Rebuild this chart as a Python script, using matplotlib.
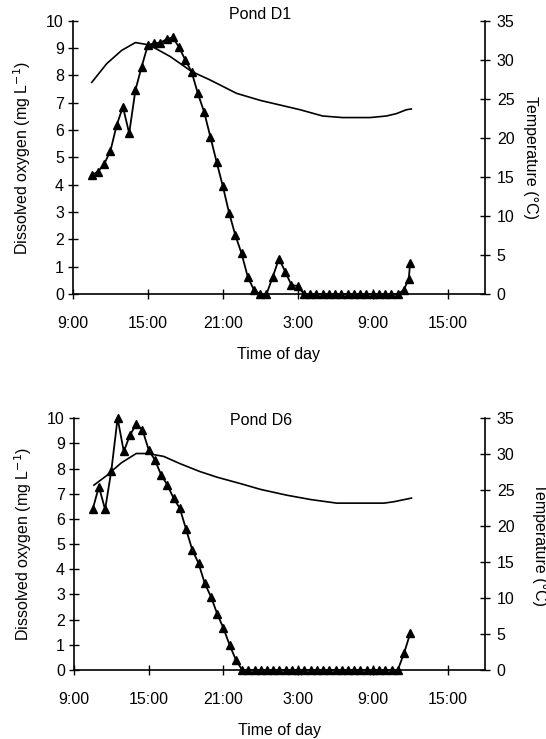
import matplotlib
matplotlib.use("Agg")
import matplotlib.pyplot as plt

plt.rcParams['font.family'] = ['Liberation Sans', 'DejaVu Sans']

# ---- Data (hours since midnight of day 1) ----
d1_time = [10.5, 11.0, 11.5, 12.0, 12.5, 13.0, 13.5, 14.0, 14.5, 15.0, 15.5, 16.0,
           16.5, 17.0, 17.5, 18.0, 18.5, 19.0, 19.5, 20.0, 20.5, 21.0, 21.5, 22.0,
           22.5, 23.0, 23.5, 24.0, 24.5, 25.0, 25.5, 26.0, 26.5, 27.0, 27.5, 28.0,
           28.5, 29.0, 29.5, 30.0, 30.5, 31.0, 31.5, 32.0, 32.5, 33.0, 33.5, 34.0,
           34.5, 35.0, 35.5, 35.9, 36.0]
d1_do = [4.35, 4.48, 4.76, 5.24, 6.18, 6.85, 5.88, 7.46, 8.32, 9.11, 9.17, 9.2,
         9.32, 9.39, 9.02, 8.56, 8.13, 7.34, 6.67, 5.76, 4.84, 3.95, 2.98, 2.16,
         1.49, 0.63, 0.15, 0.0, 0.0, 0.63, 1.3, 0.82, 0.33, 0.3, 0.0, 0.0,
         0.0, 0.0, 0.0, 0.0, 0.0, 0.0, 0.0, 0.0, 0.0, 0.0, 0.0, 0.0,
         0.0, 0.0, 0.15, 0.57, 1.12]
d1_temp_time = [10.5, 11.7, 12.9, 14.0, 15.1, 16.8, 18.5, 20.0, 22.1, 24.0, 25.6,
                27.2, 29.0, 30.6, 32.8, 34.1, 34.9, 35.7, 36.1]
d1_temp = [27.1, 29.5, 31.2, 32.2, 31.9, 30.4, 28.5, 27.4, 25.7, 24.8, 24.2,
           23.6, 22.8, 22.6, 22.6, 22.8, 23.1, 23.6, 23.7]

d6_time = [10.5, 11.0, 11.5, 12.0, 12.5, 13.0, 13.5, 14.0, 14.5, 15.0, 15.5, 16.0,
           16.5, 17.0, 17.5, 18.0, 18.5, 19.0, 19.5, 20.0, 20.5, 21.0, 21.5, 22.0,
           22.5, 23.0, 23.5, 24.0, 24.5, 25.0, 25.5, 26.0, 26.5, 27.0, 27.5, 28.0,
           28.5, 29.0, 29.5, 30.0, 30.5, 31.0, 31.5, 32.0, 32.5, 33.0, 33.5, 34.0,
           34.5, 35.0, 35.5, 36.0]
d6_do = [6.38, 7.28, 6.38, 7.92, 10.0, 8.68, 9.34, 9.76, 9.54, 8.74, 8.34, 7.75,
         7.35, 6.82, 6.42, 5.59, 4.77, 4.24, 3.44, 2.91, 2.23, 1.66, 0.99, 0.40,
         0.0, 0.0, 0.0, 0.0, 0.0, 0.0, 0.0, 0.0, 0.0, 0.0, 0.0, 0.0,
         0.0, 0.0, 0.0, 0.0, 0.0, 0.0, 0.0, 0.0, 0.0, 0.0, 0.0, 0.0,
         0.0, 0.0, 0.66, 1.46]
d6_temp_time = [10.6, 11.6, 12.8, 14.0, 14.9, 16.2, 17.5, 19.1, 20.5, 22.4, 24.0,
                26.1, 28.0, 30.1, 32.0, 33.9, 34.7, 36.1]
d6_temp = [25.7, 27.0, 28.8, 30.1, 30.1, 29.7, 28.7, 27.6, 26.8, 25.9, 25.1,
           24.3, 23.7, 23.2, 23.2, 23.2, 23.4, 23.9]

x_ticks = [9, 15, 21, 27, 33, 39]
x_labels = ["9:00", "15:00", "21:00", "3:00", "9:00", "15:00"]
titles = ["Pond D1", "Pond D6"]

fig = plt.figure(figsize=(5.46, 7.39), dpi=100)
rects = [[0.1337, 0.602, 0.7545, 0.370], [0.1355, 0.0934, 0.7527, 0.3406]]
datasets = [(d1_time, d1_do, d1_temp_time, d1_temp),
            (d6_time, d6_do, d6_temp_time, d6_temp)]
title_y = [1.021, 0.993]
temp_label_x = [1.11, 1.133]
fs = 11.5

for i, (rect, (t, do, tt, temp)) in enumerate(zip(rects, datasets)):
    ax = fig.add_axes(rect)
    ax.plot(t, do, color='black', lw=1.3, marker='^', ms=5.5, clip_on=False, zorder=3)
    ax.set_xlim(9, 42)
    ax.set_ylim(0, 10)
    ax.set_yticks(range(0, 11))
    ax.set_xticks(x_ticks)
    ax.set_xticklabels(x_labels)
    ax.spines['top'].set_visible(False)
    ax.spines['right'].set_visible(False)
    for s in ['left', 'bottom']:
        ax.spines[s].set_linewidth(1.2)
    ax.tick_params(direction='inout', length=7, width=1.0, labelsize=fs, pad=3)
    ax.tick_params(axis='x', pad=12)
    ax.set_ylabel("Dissolved oxygen (mg L$^{-1}$)", fontsize=fs)
    ax.yaxis.set_label_coords(-0.098, 0.5)
    ax.set_xlabel("Time of day", fontsize=fs, labelpad=12)
    ax.text(0.455, title_y[i], titles[i], transform=ax.transAxes, ha='center',
            va='center', fontsize=fs)

    ax2 = ax.twinx()
    ax2.plot(tt, temp, color='black', lw=1.2, zorder=2)
    ax2.set_ylim(0, 35)
    ax2.set_yticks(range(0, 36, 5))
    ax2.spines['top'].set_visible(False)
    ax2.spines['left'].set_visible(False)
    ax2.spines['bottom'].set_visible(False)
    ax2.spines['right'].set_linewidth(1.2)
    ax2.tick_params(direction='inout', length=7, width=1.0, labelsize=fs, pad=5)
    ax2.set_ylabel("Temperature (°C)", fontsize=fs, rotation=270, va='center')
    ax2.yaxis.set_label_coords(temp_label_x[i], 0.5)

fig.savefig("out.png", dpi=100)
